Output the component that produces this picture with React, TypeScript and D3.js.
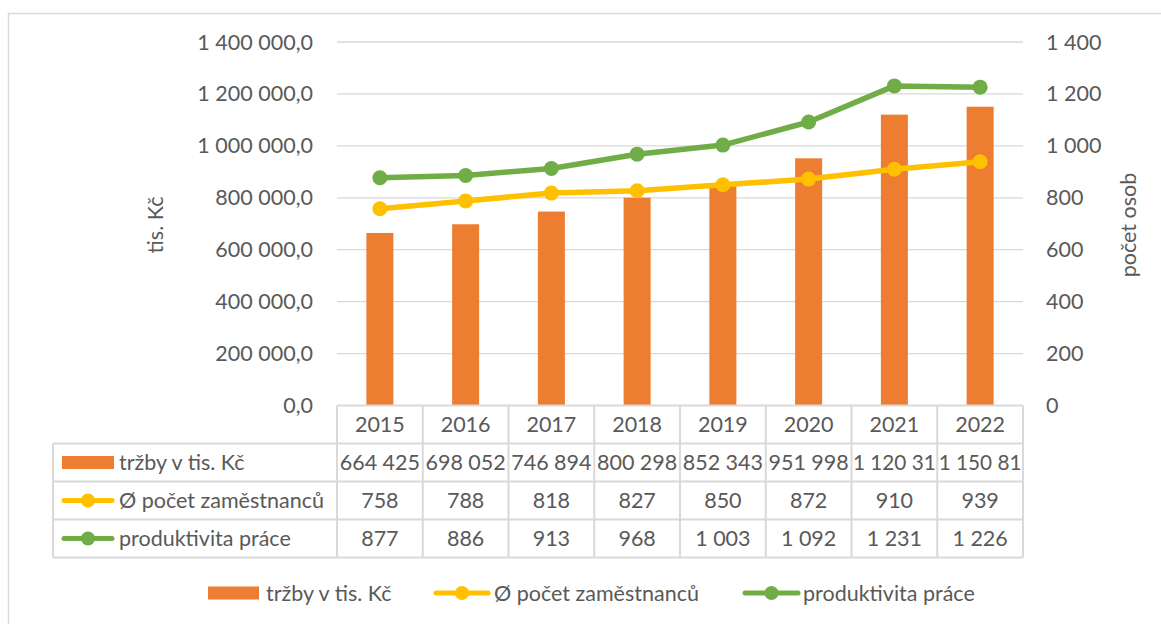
import * as d3 from "d3";
import { useEffect, useRef } from "react";

// --- Chart data ---
const years = ["2015", "2016", "2017", "2018", "2019", "2020", "2021", "2022"];
const trzby = [664425, 698052, 746894, 800298, 852343, 951998, 1120312, 1150815];
const zamestnanci = [758, 788, 818, 827, 850, 872, 910, 939];
const produktivita = [877, 886, 913, 968, 1003, 1092, 1231, 1226];
const leftTicks = [0, 200000, 400000, 600000, 800000, 1000000, 1200000, 1400000];
const rightTicks = [0, 200, 400, 600, 800, 1000, 1200, 1400];
const seriesNames = ["tržby v tis. Kč", "Ø počet zaměstnanců", "produktivita práce"];

const COLORS = { bar: "#ED7D31", yellow: "#FFC000", green: "#70AD47", text: "#595959", grid: "#D9D9D9" };
const FONT = "Lato, 'Open Sans', sans-serif";

const czLocale = d3.formatLocale({ decimal: ",", thousands: " ", grouping: [3], currency: ["", ""] });
const fmtLeft = czLocale.format(",.1f");
const fmtInt = czLocale.format(",.0f");

const App = () => {
  const svgRef = useRef<SVGSVGElement | null>(null);

  useEffect(() => {
    if (!svgRef.current) return;
    document.body.style.margin = "0";

    const svg = d3.select(svgRef.current);
    svg.selectAll("*").remove();

    const width = 1161;
    const height = 624;
    const plotLeft = 337;
    const plotRight = 1023;
    const plotTop = 42;
    const plotBottom = 405.5;
    const rowH = 38;
    const tableLeft = 53;
    const fontSize = 21.5;

    svg.attr("width", width).attr("height", height).style("font-family", FONT);

    // chart frame
    svg
      .append("rect")
      .attr("x", 8.5)
      .attr("y", 13.5)
      .attr("width", width)
      .attr("height", height)
      .attr("fill", "white")
      .attr("stroke", COLORS.grid)
      .attr("stroke-width", 1.5);

    const x = d3.scaleBand<string>().domain(years).range([plotLeft, plotRight]);
    const bw = x.bandwidth();
    const cx = (d: string) => (x(d) as number) + bw / 2;
    const yL = d3.scaleLinear().domain([0, 1400000]).range([plotBottom, plotTop]);
    const yR = d3.scaleLinear().domain([0, 1400]).range([plotBottom, plotTop]);

    // gridlines
    svg
      .append("g")
      .selectAll("line")
      .data(leftTicks.slice(1))
      .join("line")
      .attr("x1", plotLeft)
      .attr("x2", plotRight)
      .attr("y1", (d) => yL(d))
      .attr("y2", (d) => yL(d))
      .attr("stroke", COLORS.grid)
      .attr("stroke-width", 1.3);

    // axis labels
    svg
      .append("g")
      .selectAll("text")
      .data(leftTicks)
      .join("text")
      .attr("x", 313)
      .attr("y", (d) => yL(d))
      .attr("dy", "0.35em")
      .attr("text-anchor", "end")
      .attr("font-size", fontSize)
      .attr("fill", COLORS.text)
      .text((d) => fmtLeft(d));

    svg
      .append("g")
      .selectAll("text")
      .data(rightTicks)
      .join("text")
      .attr("x", 1046)
      .attr("y", (d) => yR(d))
      .attr("dy", "0.35em")
      .attr("text-anchor", "start")
      .attr("font-size", fontSize)
      .attr("fill", COLORS.text)
      .text((d) => fmtInt(d));

    // axis titles
    svg
      .append("text")
      .attr("transform", "translate(155,225) rotate(-90)")
      .attr("dy", "0.35em")
      .attr("text-anchor", "middle")
      .attr("font-size", fontSize)
      .attr("fill", COLORS.text)
      .text("tis. Kč");
    svg
      .append("text")
      .attr("transform", "translate(1128,225) rotate(-90)")
      .attr("dy", "0.35em")
      .attr("text-anchor", "middle")
      .attr("font-size", fontSize)
      .attr("fill", COLORS.text)
      .text("počet osob");

    // bars
    const barW = bw * 0.315;
    svg
      .append("g")
      .selectAll("rect")
      .data(trzby)
      .join("rect")
      .attr("x", (_d, i) => cx(years[i]) - barW / 2)
      .attr("width", barW)
      .attr("y", (d) => yL(d))
      .attr("height", (d) => plotBottom - yL(d))
      .attr("fill", COLORS.bar);

    // lines + markers
    const line = d3
      .line<number>()
      .x((_d, i) => cx(years[i]))
      .y((d) => yR(d));

    [
      { values: zamestnanci, color: COLORS.yellow },
      { values: produktivita, color: COLORS.green },
    ].forEach((s) => {
      svg
        .append("path")
        .datum(s.values)
        .attr("d", line)
        .attr("fill", "none")
        .attr("stroke", s.color)
        .attr("stroke-width", 5.5)
        .attr("stroke-linejoin", "round")
        .attr("stroke-linecap", "round");
      svg
        .append("g")
        .selectAll("circle")
        .data(s.values)
        .join("circle")
        .attr("cx", (_d, i) => cx(years[i]))
        .attr("cy", (d) => yR(d))
        .attr("r", 7.5)
        .attr("fill", s.color);
    });

    // --- Data table ---
    const table = svg.append("g");
    const hLines = [0, 1, 2, 3, 4].map((i) => plotBottom + i * rowH);
    table
      .selectAll("line.h")
      .data(hLines)
      .join("line")
      .attr("class", "h")
      .attr("x1", (_d, i) => (i === 0 ? plotLeft : tableLeft))
      .attr("x2", plotRight)
      .attr("y1", (d) => d)
      .attr("y2", (d) => d)
      .attr("stroke", COLORS.grid)
      .attr("stroke-width", 2);
    const vLines = d3.range(years.length + 1).map((i) => plotLeft + i * bw);
    table
      .selectAll("line.v")
      .data(vLines)
      .join("line")
      .attr("class", "v")
      .attr("x1", (d) => d)
      .attr("x2", (d) => d)
      .attr("y1", plotBottom)
      .attr("y2", plotBottom + 4 * rowH)
      .attr("stroke", COLORS.grid)
      .attr("stroke-width", 2);
    table
      .append("line")
      .attr("x1", tableLeft)
      .attr("x2", tableLeft)
      .attr("y1", plotBottom + rowH)
      .attr("y2", plotBottom + 4 * rowH)
      .attr("stroke", COLORS.grid)
      .attr("stroke-width", 2);

    // year row
    table
      .selectAll("text.year")
      .data(years)
      .join("text")
      .attr("class", "year")
      .attr("x", (d) => cx(d))
      .attr("y", plotBottom + rowH / 2)
      .attr("dy", "0.35em")
      .attr("text-anchor", "middle")
      .attr("font-size", fontSize)
      .attr("fill", COLORS.text)
      .text((d) => d);

    // value rows; values too wide for a cell get cut like in the spreadsheet
    const rows = [trzby, zamestnanci, produktivita];
    rows.forEach((vals, r) => {
      const rowY = plotBottom + (r + 1) * rowH;
      vals.forEach((v, i) => {
        const left = x(years[i]) as number;
        const t = table
          .append("text")
          .attr("x", left + bw / 2)
          .attr("y", rowY + rowH / 2)
          .attr("dy", "0.35em")
          .attr("text-anchor", "middle")
          .attr("font-size", fontSize)
          .attr("fill", COLORS.text)
          .text(fmtInt(v));
        const node = t.node() as SVGTextElement;
        if (node.getComputedTextLength() > bw - 2) {
          let label = fmtInt(v);
          while (label.length > 1 && node.getComputedTextLength() > bw + 8) {
            label = label.slice(0, -1);
            t.text(label);
          }
          t.attr("x", left + 1.5).attr("text-anchor", "start");
          if (node.getComputedTextLength() > bw - 3) {
            t.attr("textLength", bw - 3).attr("lengthAdjust", "spacingAndGlyphs");
          }
        }
      });
    });

    // legend keys
    const drawKey = (g: d3.Selection<SVGGElement, unknown, null, undefined>, k: number, x0: number, x1: number, cy: number) => {
      if (k === 0) {
        g.append("rect")
          .attr("x", x0)
          .attr("y", cy - 6.5)
          .attr("width", x1 - x0)
          .attr("height", 13)
          .attr("fill", COLORS.bar);
      } else {
        const color = k === 1 ? COLORS.yellow : COLORS.green;
        g.append("line")
          .attr("x1", x0 + 2)
          .attr("x2", x1 - 2)
          .attr("y1", cy)
          .attr("y2", cy)
          .attr("stroke", color)
          .attr("stroke-width", 5)
          .attr("stroke-linecap", "round");
        g.append("circle")
          .attr("cx", (x0 + x1) / 2)
          .attr("cy", cy)
          .attr("r", 7)
          .attr("fill", color);
      }
    };

    seriesNames.forEach((name, k) => {
      const cy = plotBottom + (k + 1) * rowH + rowH / 2;
      drawKey(table, k, 62, 114, cy);
      table
        .append("text")
        .attr("x", 119)
        .attr("y", cy)
        .attr("dy", "0.35em")
        .attr("font-size", fontSize)
        .attr("fill", COLORS.text)
        .text(name);
    });

    // bottom legend
    const legend = svg.append("g");
    const legendY = 593;
    const legendItems = [
      { k: 0, x0: 208, x1: 259, tx: 266 },
      { k: 1, x0: 434, x1: 490, tx: 494 },
      { k: 2, x0: 743, x1: 800, tx: 803 },
    ];
    legendItems.forEach((it) => {
      drawKey(legend, it.k, it.x0, it.x1, legendY);
      legend
        .append("text")
        .attr("x", it.tx)
        .attr("y", legendY)
        .attr("dy", "0.35em")
        .attr("font-size", fontSize)
        .attr("fill", COLORS.text)
        .text(seriesNames[it.k]);
    });
  }, []);

  return <svg ref={svgRef} style={{ display: "block" }} />;
};

export default App;
